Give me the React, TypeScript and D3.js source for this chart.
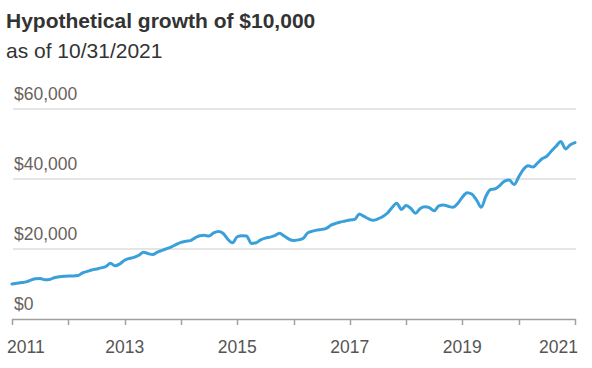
import * as d3 from 'd3'

// month-end values in $ thousands, Oct 2011 .. Oct 2021
const growth = [
  10.0, 10.2, 10.4, 10.6, 11.1, 11.5, 11.6, 11.2, 11.3, 11.8,
  12.1, 12.2, 12.3, 12.3, 12.4, 13.2, 13.6, 14.0, 14.3, 14.6,
  15.0, 15.9, 15.2, 15.8, 16.8, 17.3, 17.6, 18.2, 19.1, 18.7,
  18.4, 19.1, 19.6, 20.1, 20.6, 21.3, 21.9, 22.2, 22.4, 23.2,
  23.8, 23.9, 23.7, 24.6, 25.0, 24.5, 22.8, 21.8, 23.5, 23.8,
  23.7, 21.6, 21.8, 22.6, 23.1, 23.4, 23.8, 24.5, 23.7, 22.8,
  22.4, 22.6, 23.0, 24.6, 25.1, 25.4, 25.6, 25.9, 26.8, 27.3,
  27.7, 28.0, 28.3, 28.4, 30.0, 29.3, 28.6, 28.2, 28.6, 29.2,
  30.2, 31.8, 33.1, 31.3, 32.4, 31.6, 30.2, 31.6, 32.1, 31.8,
  30.9, 32.3, 32.6, 32.2, 31.9, 33.0, 34.8, 36.1, 35.7, 34.0,
  31.9, 35.0, 37.0, 37.2, 38.2, 39.4, 39.7, 38.4, 40.6, 42.8,
  43.8, 43.4, 44.6, 45.8, 46.5, 48.0, 49.4, 50.7, 48.6, 49.8,
  50.4,
]
const yTicks = [0, 20000, 40000, 60000]
const tickYears = [2011, 2012, 2013, 2014, 2015, 2016, 2017, 2018, 2019, 2020, 2021]
const labelYears = [2011, 2013, 2015, 2017, 2019, 2021]

const title = 'Hypothetical growth of $10,000'
const subtitle = 'as of 10/31/2021'

const FONT = '"Liberation Sans", Arial, sans-serif'

export default function App() {
  const width = 592
  const height = 368

  const x = d3.scaleTime()
    .domain([new Date(2011, 9, 1), new Date(2021, 9, 1)])
    .range([12, 575])
  const y = d3.scaleLinear().domain([0, 60000]).range([319, 109])

  const points = growth.map((v, i) => ({date: new Date(2011, 9 + i, 1), value: v * 1000}))
  const line = d3.line<{date: Date, value: number}>()
    .x(d => x(d.date))
    .y(d => y(d.value))
    .curve(d3.curveMonotoneX)

  const fmt = d3.format('$,.0f')

  return (
    <svg
      width={width}
      height={height}
      style={{position: 'absolute', left: 0, top: 0, display: 'block'}}
      fontFamily={FONT}
    >
      <rect width={width} height={height} fill={'#fff'} />
      <text x={6} y={28} fontSize={21} fontWeight={700} fill={'#333'}>{title}</text>
      <text x={6} y={58} fontSize={21} fill={'#333'}>{subtitle}</text>

      {yTicks.map(t => (
        <g key={t}>
          {t > 0 && (
            <line x1={13} x2={576} y1={y(t)} y2={y(t)} stroke={'#dcdcdc'} strokeWidth={1.5} />
          )}
          <text x={14} y={y(t) - 9} fontSize={17.5} fill={'#6a625c'}>{fmt(t)}</text>
        </g>
      ))}

      <line x1={12} x2={575.5} y1={319.5} y2={319.5} stroke={'#a0a0a0'} strokeWidth={1.5} />
      {tickYears.map(yr => {
        const tx = Math.round(x(new Date(yr, 9, 1))) + 0.5
        return <line key={yr} x1={tx} x2={tx} y1={319} y2={325} stroke={'#a0a0a0'} strokeWidth={1.5} />
      })}
      {labelYears.map((yr, i) => {
        const tx = x(new Date(yr, 9, 1))
        const first = i === 0
        const last = i === labelYears.length - 1
        return (
          <text
            key={yr}
            x={first ? 7 : last ? 578 : tx}
            y={353}
            fontSize={17.5}
            fill={'#555'}
            textAnchor={first ? 'start' : last ? 'end' : 'middle'}
          >
            {yr}
          </text>
        )
      })}

      <path
        d={line(points) ?? undefined}
        fill={'none'}
        stroke={'#3aa0da'}
        strokeWidth={3}
        strokeLinejoin={'round'}
        strokeLinecap={'round'}
      />
    </svg>
  )
}
